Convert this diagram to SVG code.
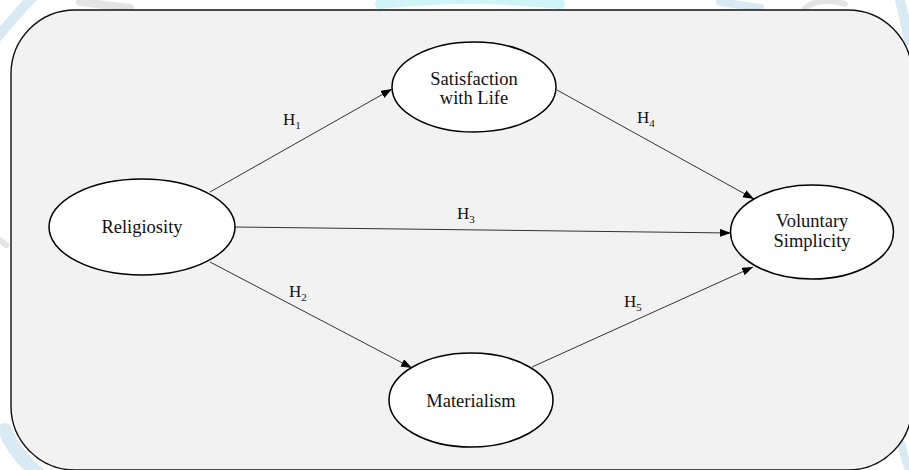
<svg xmlns="http://www.w3.org/2000/svg" width="909" height="470" viewBox="0 0 909 470">
<style>
.node ellipse{fill:#fff;stroke:#000;stroke-width:1.5}
.node text{font-family:"Liberation Serif","Times New Roman",serif;font-size:18.5px;fill:#111;text-anchor:middle}
.conn line{stroke:#333;stroke-width:1}
.lbl{font-family:"Liberation Serif","Times New Roman",serif;font-size:17px;fill:#111}
.lbl tspan{font-size:11px}
.wm{fill:none;stroke-linecap:round}
</style>
<defs>
<marker id="arr" markerUnits="userSpaceOnUse" markerWidth="12" markerHeight="10" refX="11" refY="4" orient="auto">
<path d="M0,0 L11,4 L0,8 Z" fill="#000"/>
</marker>
</defs>
<rect x="0" y="0" width="909" height="470" fill="#fff"/>
<g id="watermark" opacity="0.55">
<path class="wm" d="M-5,40 Q20,10 35,-5" stroke="#bcd9ec" stroke-width="10"/>
<path class="wm" d="M5,430 Q15,455 40,475" stroke="#bcd9ec" stroke-width="14"/>
<path class="wm" d="M80,2 L130,8" stroke="#cfcfcf" stroke-width="8"/>
<path class="wm" d="M380,4 Q470,-6 560,4" stroke="#a8ecf3" stroke-width="10"/>
<path class="wm" d="M720,2 L760,8" stroke="#bcd9ec" stroke-width="8"/>
<path class="wm" d="M805,8 Q820,-4 845,4" stroke="#cfcfcf" stroke-width="6"/>
<path class="wm" d="M900,0 Q905,20 909,40" stroke="#bcd9ec" stroke-width="10"/>
<path class="wm" d="M902,445 Q905,460 909,470" stroke="#bcd9ec" stroke-width="8"/>
<path class="wm" d="M0,240 L6,245" stroke="#cfcfcf" stroke-width="6"/>
</g>
<rect id="frame" x="11" y="10" width="901" height="460" rx="64" ry="64" fill="#f2f2f2" stroke="#111" stroke-width="1.4"/>
<g id="connectors" class="conn">
<line x1="210" y1="192" x2="392" y2="89" marker-end="url(#arr)"/>
<line x1="235" y1="227" x2="731" y2="233" marker-end="url(#arr)"/>
<line x1="210" y1="262" x2="412" y2="368" marker-end="url(#arr)"/>
<line x1="557" y1="90" x2="754" y2="199" marker-end="url(#arr)"/>
<line x1="532" y1="367" x2="753" y2="267" marker-end="url(#arr)"/>
</g>
<g id="labels">
<text class="lbl" x="283" y="125">H<tspan dy="4">1</tspan></text>
<text class="lbl" x="289" y="297">H<tspan dy="4">2</tspan></text>
<text class="lbl" x="457" y="219">H<tspan dy="4">3</tspan></text>
<text class="lbl" x="637" y="123">H<tspan dy="4">4</tspan></text>
<text class="lbl" x="624" y="307">H<tspan dy="4">5</tspan></text>
</g>
<g id="religiosity" class="node">
<ellipse cx="142" cy="227" rx="93" ry="48"/>
<text x="142" y="233">Religiosity</text>
</g>
<g id="satisfaction" class="node">
<ellipse cx="474" cy="87" rx="82" ry="45"/>
<text x="474" y="85">Satisfaction</text>
<text x="474" y="104">with Life</text>
</g>
<g id="voluntary" class="node">
<ellipse cx="812" cy="232" rx="81.5" ry="47"/>
<text x="812" y="227">Voluntary</text>
<text x="812" y="247">Simplicity</text>
</g>
<g id="materialism" class="node">
<ellipse cx="471" cy="400" rx="82" ry="47"/>
<text x="471" y="407">Materialism</text>
</g>
</svg>
